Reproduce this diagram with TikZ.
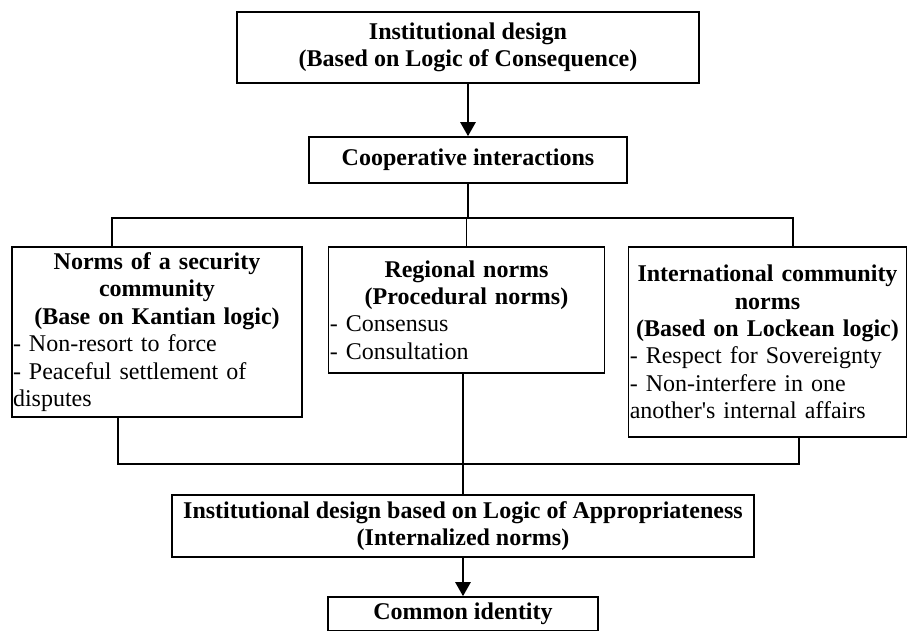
\documentclass[tikz,border=0pt]{standalone}
\usepackage{fontspec}
\setmainfont{Liberation Serif}
\usetikzlibrary{arrows.meta}

\tikzset{
  headbox/.style={draw, line width=1.3pt, inner sep=2pt, align=center,
    font=\fontsize{18}{20.6}\selectfont\bfseries},
  normbox/.style={draw, line width=1.3pt, inner xsep=1pt, inner ysep=0pt,
    font=\fontsize{18}{20.6}\selectfont},
  link/.style={line width=1.3pt},
  arr/.style={line width=1.3pt, -{Triangle[length=10.5pt,width=11.5pt]}}
}

\begin{document}
\begin{tikzpicture}[x=0.75pt,y=0.75pt,yscale=-1,xscale=1]
\useasboundingbox (0,0) rectangle (908,631);

% Text Node
\node [headbox, minimum width=346.5pt, minimum height=53.25pt] (design) at (468,47.5)
  {Institutional design\\(Based on Logic of Consequence)};
% Text Node
\node [headbox, minimum width=238.5pt, minimum height=34.5pt] (coop) at (468,160)
  {Cooperative interactions};

% Text Node
\node [normbox, text width=216pt, minimum height=127.5pt] (kant) at (157,332)
  {{\centering\bfseries Norms of a security\\community\\(Base on Kantian logic)\par}
   \raggedright - Non-resort to force\\- Peaceful settlement of\\disputes};
% Text Node
\node [normbox, text width=205pt, minimum height=94.5pt] (region) at (466.5,310)
  {{\centering\bfseries Regional norms\\(Procedural norms)\par}
   \raggedright - Consensus\\- Consultation};
% Text Node
\node [normbox, text width=206.5pt, minimum height=142.5pt] (locke) at (767.5,342)
  {{\centering\bfseries International community\\norms\\(Based on Lockean logic)\par}
   \raggedright - Respect for Sovereignty\\- Non-interfere in one\\another\textquotesingle s internal affairs};

% Text Node
\node [headbox, minimum width=436.5pt, minimum height=46.5pt] (approp) at (463,526)
  {Institutional design based on Logic of Appropriateness\\(Internalized norms)};
% Text Node
\node [headbox, minimum width=202.5pt, minimum height=25.5pt] (identity) at (463,614)
  {Common identity};

%Connectors
\coordinate (hl) at (112,218);
\coordinate (hr) at (793,218);
\coordinate (ll) at (118,464);
\coordinate (lr) at (799,464);

\draw [arr] (design) -- (coop);
\draw [link] (coop.south) -- (coop.south |- hl);
\draw [link] (hl |- kant.north) -- (hl) -- (hr) -- (hr |- locke.north);
\draw [link] (region.north) -- (region.north |- hl);
\draw [link] (ll |- kant.south) -- (ll) -- (lr) -- (lr |- locke.south);
\draw [link] (approp.north |- region.south) -- (approp.north);
\draw [arr] (approp) -- (identity);

\end{tikzpicture}
\end{document}
